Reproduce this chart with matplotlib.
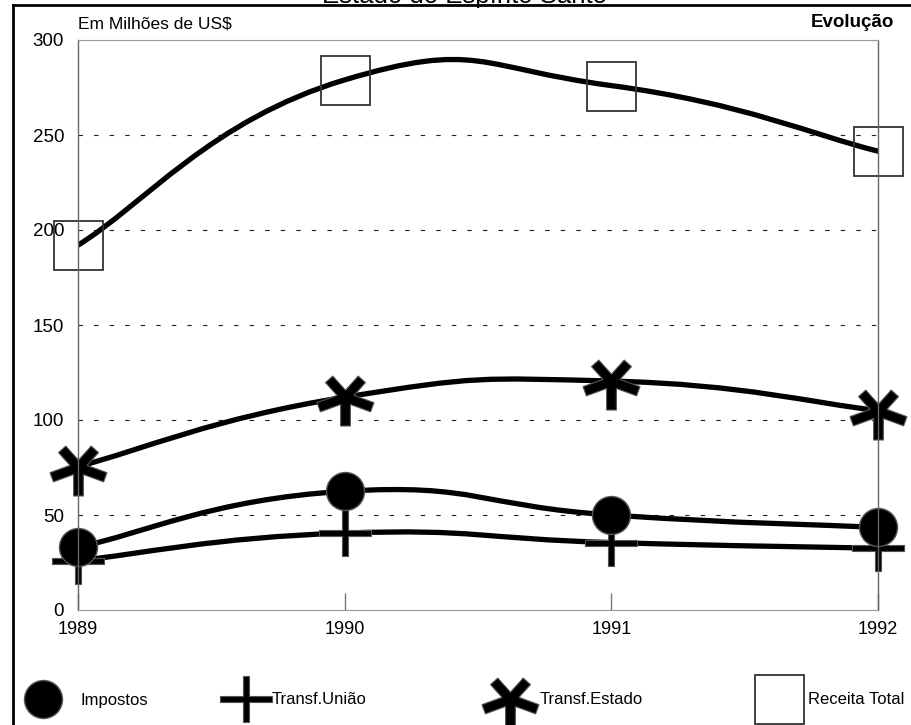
import numpy as np
import matplotlib
matplotlib.use("Agg")
import matplotlib.pyplot as plt
from matplotlib.path import Path
from matplotlib.patches import PathPatch
from matplotlib.lines import Line2D
from matplotlib import font_manager

# ---------------- data ----------------
years = [1989, 1990, 1991, 1992]
impostos = [33, 62.5, 50, 43.5]
transf_uniao = [26, 40.5, 35.5, 32.5]
transf_estado = [75.5, 112, 120.5, 105]
receita_total = [192, 279, 276, 241.5]
series_names = ["Impostos", "Transf.União", "Transf.Estado", "Receita Total"]
yticks = [0, 50, 100, 150, 200, 250, 300]
title = "Estado do Espírito Santo"
unit_label = "Em Milhões de US$"
corner_label = "Evolução"

# ---------------- fonts ----------------
names = {f.name for f in font_manager.fontManager.ttflist}
FONT = "Liberation Sans" if "Liberation Sans" in names else "DejaVu Sans"
plt.rcParams["font.family"] = [FONT, "DejaVu Sans"]

W, H = 911, 725
fig = plt.figure(figsize=(W / 100, H / 100), dpi=100)
L, R, T, B = 78, 878, 40, 610
ax = fig.add_axes([L / W, 1 - B / H, (R - L) / W, (B - T) / H])


def px(x, y):
    return x / W, 1 - y / H


# ---------------- custom markers ----------------
def star_outline(arms, hw):
    arms = sorted(((a % 360, ln) for a, ln in arms), key=lambda t: t[0])
    dirs = []
    for ang, ln in arms:
        t = np.deg2rad(ang)
        d = np.array([np.cos(t), np.sin(t)])
        n = np.array([-d[1], d[0]])
        dirs.append((d, n, ln))
    verts = []
    k = len(dirs)
    for i in range(k):
        d, n, ln = dirs[i]
        d2, n2, _ = dirs[(i + 1) % k]
        verts.append(tuple(d * ln - n * hw))
        verts.append(tuple(d * ln + n * hw))
        A = np.column_stack([d, -d2])
        rhs = -n2 * hw - n * hw
        s, _t = np.linalg.solve(A, rhs)
        verts.append(tuple(n * hw + s * d))
    verts.append(verts[0])
    codes = [Path.MOVETO] + [Path.LINETO] * (len(verts) - 2) + [Path.CLOSEPOLY]
    return Path(verts, codes)


star_path = star_outline([(48, 24), (132, 24), (200, 28), (270, 28), (340, 28)], 4.8)
hw_p = 2.8
plus_verts = [(-26, -hw_p), (-hw_p, -hw_p), (-hw_p, -23), (hw_p, -23), (hw_p, -hw_p),
              (26, -hw_p), (26, hw_p), (hw_p, hw_p), (hw_p, 23), (-hw_p, 23),
              (-hw_p, hw_p), (-26, hw_p), (-26, -hw_p)]
plus_codes = [Path.MOVETO] + [Path.LINETO] * 11 + [Path.CLOSEPOLY]
plus_path = Path(plus_verts, plus_codes)

PT = 0.72  # points per pixel at dpi 100
styles = {
    "Impostos": dict(marker="o", ms=38 * PT, mfc="black", mec="#555555", mew=1.0),
    "Transf.União": dict(marker=plus_path, ms=52 * PT, mfc="black", mec="#555555", mew=0.8),
    "Transf.Estado": dict(marker=star_path, ms=57 * PT, mfc="black", mec="#555555", mew=0.8),
    "Receita Total": dict(marker="s", ms=49 * PT, mfc="none", mec="#333333", mew=1.3),
}


# ---------------- smooth curve (Bezier through data points) ----------------
def smooth_path(xs, ys, k=0.25):
    P = np.column_stack([xs, ys]).astype(float)
    n = len(P)
    verts = [tuple(P[0])]
    codes = [Path.MOVETO]
    for i in range(n - 1):
        p_prev = P[i - 1] if i > 0 else P[i]
        p_next2 = P[i + 2] if i + 2 < n else P[i + 1]
        c1 = P[i] + (P[i + 1] - p_prev) * k
        c2 = P[i + 1] - (p_next2 - P[i]) * k
        verts += [tuple(c1), tuple(c2), tuple(P[i + 1])]
        codes += [Path.CURVE4] * 3
    return Path(verts, codes)


data = {
    "Impostos": impostos,
    "Transf.União": transf_uniao,
    "Transf.Estado": transf_estado,
    "Receita Total": receita_total,
}

# gridlines
for v in yticks[1:]:
    ax.axhline(v, color="#222222", lw=0.8, ls=(0, (4, 10)), zorder=1)

# curves
for name in series_names:
    ax.add_patch(PathPatch(smooth_path(years, data[name]), fill=False,
                           ec="black", lw=3.8, capstyle="round", zorder=3))

# markers
order = ["Transf.União", "Impostos", "Transf.Estado", "Receita Total"]
for z, name in enumerate(order):
    ax.plot(years, data[name], ls="none", zorder=4 + z, clip_on=False, **styles[name])

ax.set_xlim(1989, 1992)
ax.set_ylim(0, 300)
ax.set_xticks(years)
ax.set_xticklabels([str(y) for y in years])
ax.set_yticks(yticks)
ax.tick_params(axis="x", direction="in", length=12, width=1.0, color="#777777",
               labelsize=13, pad=8, colors="black")
ax.tick_params(axis="x", color="#777777")
ax.tick_params(axis="y", length=0, labelsize=13.5, pad=10, colors="black")
for s in ["left", "right"]:
    ax.spines[s].set_color("#666666")
    ax.spines[s].set_linewidth(1.0)
for s in ["top", "bottom"]:
    ax.spines[s].set_color("#999999")
    ax.spines[s].set_linewidth(0.8)
for s in ax.spines.values():
    s.set_zorder(20)

# header texts
fig.text(*px(78, 28), unit_label, fontsize=12.5, ha="left", va="baseline")
fig.text(*px(894, 27), corner_label, fontsize=13.5, fontweight="bold", ha="right", va="baseline")
fig.text(*px(464, 3), title, fontsize=18.5, ha="center", va="baseline")

# outer frame (extends beyond right/bottom edges)
fig.add_artist(Line2D([13 / W, 13 / W], [1 - 5 / H, 0], transform=fig.transFigure,
                      color="black", lw=2.0))
fig.add_artist(Line2D([13 / W, 1], [1 - 5 / H, 1 - 5 / H], transform=fig.transFigure,
                      color="black", lw=2.0))

# legend (manual)
leg_y = 699
leg_items = [
    ("Impostos", 43, 80),
    ("Transf.União", 246, 272),
    ("Transf.Estado", 510, 540),
    ("Receita Total", 779, 808),
]
for name, mx, tx in leg_items:
    st = dict(styles[name])
    fig.add_artist(Line2D([mx / W], [1 - leg_y / H], transform=fig.transFigure,
                          ls="none", **st))
    fig.text(*px(tx, leg_y + 1), name, fontsize=12, ha="left", va="center")

fig.savefig("out.png", dpi=100)
